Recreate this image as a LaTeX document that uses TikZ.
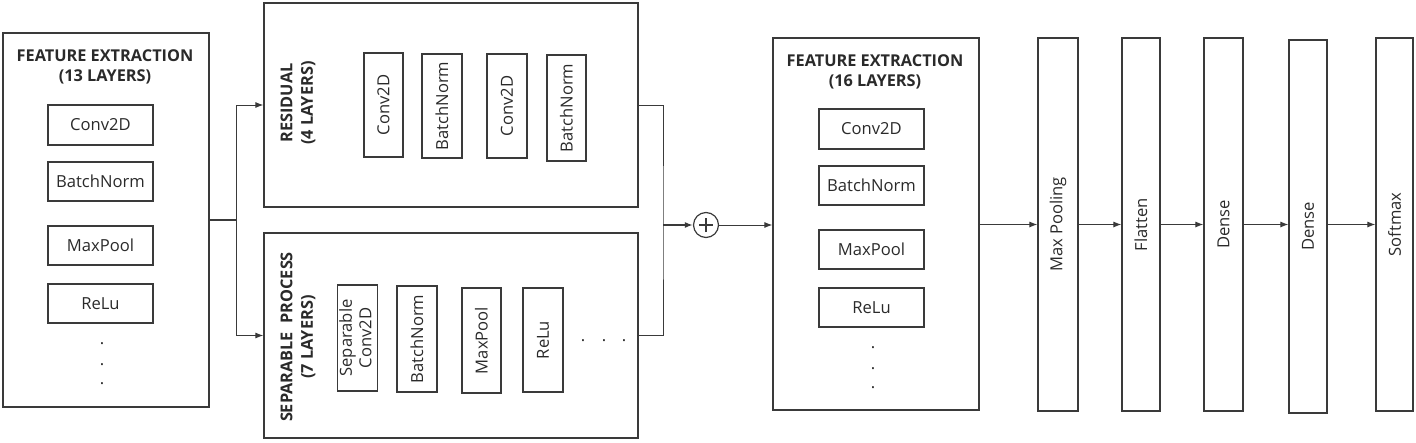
\documentclass[tikz,border=0pt]{standalone}
\usepackage{fontspec}
\setmainfont{Open Sans}
\usetikzlibrary{arrows.meta}
\definecolor{linec}{HTML}{3A3A3A}
\definecolor{textc}{HTML}{2A2A2A}
\tikzset{
  box/.style 2 args={draw=linec, line width=1.2pt, minimum width=#1, minimum height=#2, inner sep=0pt},
  title/.style={font=\fontsize{16.3}{20.5}\selectfont\bfseries, align=center, text=textc},
  arr/.style={draw=linec, line width=1pt, -{Latex[length=8pt,width=6pt]}},
  wire/.style={draw=linec, line width=1pt},
  dot/.style={inner sep=0pt, text=textc}
}
\begin{document}
\begin{tikzpicture}[x=1pt,y=-1pt, every node/.style={font=\fontsize{16.6}{20.5}\selectfont, text=textc}]
\useasboundingbox (0,0) rectangle (1416,442);
% feature extraction, 13 layers
\node[box={206pt}{374pt}] (fe1) at (106,220) {};
\node[title] (fe1t) at (105,67) {FEATURE EXTRACTION\\(13 LAYERS)};
\node[box={105pt}{40pt}] (fe1a) at (100.5,125) {Conv2D};
\node[box={105pt}{39pt}] (fe1b) at (100.5,181.5) {BatchNorm};
\node[box={105pt}{39pt}] (fe1c) at (100.5,245.5) {MaxPool};
\node[box={105pt}{39pt}] (fe1d) at (100.5,303.5) {ReLu};
\foreach \y [count=\i] in {344,365,384} \node[dot] (fe1dot\i) at (102,\y) {.};
% residual
\node[box={374pt}{204pt}] (res) at (451,105) {};
\node[title, rotate=90] (rest) at (298,103) {RESIDUAL\\(4 LAYERS)};
\node[box={39pt}{104pt}] (resa) at (383.5,105) {\rotatebox{90}{Conv2D}};
\node[box={40pt}{104pt}] (resb) at (442,106) {\rotatebox{90}{BatchNorm}};
\node[box={40pt}{104pt}] (resc) at (507,106) {\rotatebox{90}{Conv2D}};
\node[box={39pt}{106pt}] (resd) at (566.5,108) {\rotatebox{90}{BatchNorm}};
% separable process
\node[box={374pt}{205pt}] (sep) at (451,335.5) {};
\node[title, rotate=90] (sept) at (298,337) {SEPARABLE\ \ PROCESS\\(7 LAYERS)};
\node[box={39pt}{106pt}] (sepa) at (357.5,338) {\rotatebox{90}{\begin{tabular}{@{}c@{}}Separable\\[-1pt]Conv2D\end{tabular}}};
\node[box={40pt}{106pt}] (sepb) at (417,339) {\rotatebox{90}{BatchNorm}};
\node[box={39pt}{105pt}] (sepc) at (481.5,340.5) {\rotatebox{90}{MaxPool}};
\node[box={40pt}{104pt}] (sepd) at (543,340) {\rotatebox{90}{ReLu}};
\foreach \x [count=\i] in {583,604,624} \node[dot] (sepdot\i) at (\x,341) {.};
% merge
\coordinate (split) at (236,220);
\coordinate (join) at (663,225);
\node[circle, draw=linec, line width=1.2pt, minimum size=25pt, inner sep=0pt,
  path picture={\draw[line width=1.6pt, linec] ([xshift=-7pt]path picture bounding box.center) -- ([xshift=7pt]path picture bounding box.center)
    ([yshift=-7pt]path picture bounding box.center) -- ([yshift=7pt]path picture bounding box.center);}] (plus) at (706,225) {};
% feature extraction, 16 layers
\node[box={206pt}{372pt}] (fe2) at (876,224) {};
\node[title] (fe2t) at (875,72) {FEATURE EXTRACTION\\(16 LAYERS)};
\node[box={105pt}{40pt}] (fe2a) at (871.5,129) {Conv2D};
\node[box={105pt}{39pt}] (fe2b) at (871.5,185.5) {BatchNorm};
\node[box={105pt}{39pt}] (fe2c) at (871.5,249.5) {MaxPool};
\node[box={105pt}{39pt}] (fe2d) at (871.5,307.5) {ReLu};
\foreach \y [count=\i] in {348,369,388} \node[dot] (fe2dot\i) at (873,\y) {.};
% classifier
\node[box={40pt}{373pt}] (mp) at (1058,224.5) {\rotatebox{90}{Max Pooling}};
\node[box={38pt}{373pt}] (fl) at (1141,224.5) {\rotatebox{90}{Flatten}};
\node[box={39pt}{373pt}] (d1) at (1223.5,224.5) {\rotatebox{90}{Dense}};
\node[box={38pt}{373pt}] (d2) at (1308,226.5) {\rotatebox{90}{Dense}};
\node[box={37pt}{373pt}] (sm) at (1394.5,224.5) {\rotatebox{90}{Softmax}};
% connectors
\draw[wire, line width=1.4pt] (fe1.east) -- (split);
\draw[arr] (split) |- (res.west);
\draw[arr] (split) |- (sep.west);
\draw[wire] (res.east) -| (join) |- (sep.east);
\draw[arr, line width=1.6pt] (join) -- (plus.west);
\draw[arr] (plus.east) -- (fe2.west |- plus.east);
\draw[arr] (fe2.east |- mp.west) -- (mp.west);
\draw[arr] (mp.east) -- (fl.west);
\draw[arr] (fl.east) -- (d1.west);
\draw[arr] (d1.east) -- (d1.east -| d2.west);
\draw[arr] (d2.east |- sm.west) -- (sm.west);
\end{tikzpicture}
\end{document}
